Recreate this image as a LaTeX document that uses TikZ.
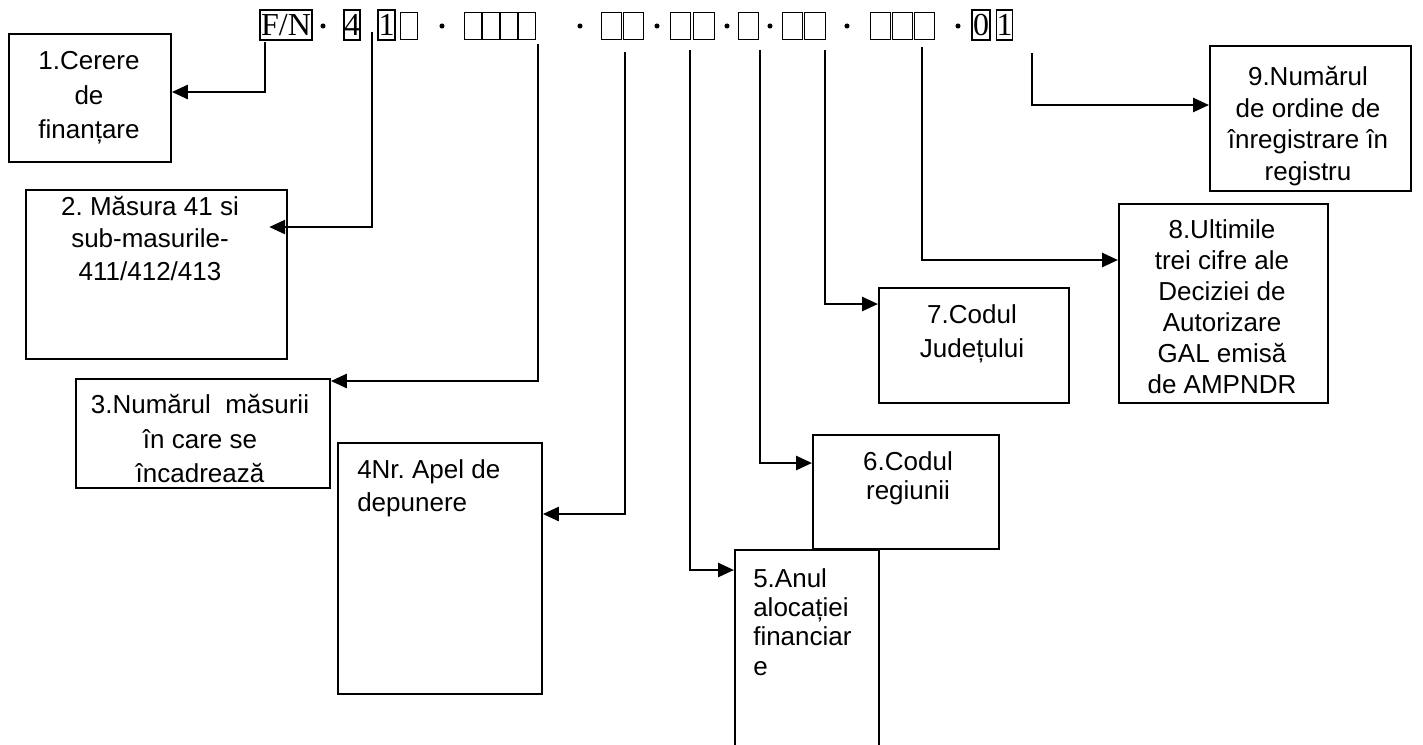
\documentclass[tikz,border=0pt]{standalone}
\usepackage{fontspec}
\setmainfont{Liberation Sans}
\newfontfamily\codefont{Liberation Serif}
\usetikzlibrary{arrows.meta}
\frenchspacing
\tikzset{
  box/.style={draw, line width=1.4pt, inner sep=0pt},
  conn/.style={line width=2pt, -{Triangle[length=12pt,width=10.5pt]}},
  lbl/.style={font=\fontsize{19.5}{#1}\selectfont, align=center, inner sep=0pt},
  lbll/.style={font=\fontsize{19.5}{#1}\selectfont, align=left, inner sep=0pt},
  codebox/.style={draw, line width=1.1pt, inner sep=0pt, font=\codefont\fontsize{24}{24}\selectfont, minimum height=22.5pt},
  tofu/.style={draw, line width=1.1pt, inner sep=0pt, minimum height=20pt},
  dotmark/.style={circle, fill, inner sep=0pt, minimum size=3.8pt}
}
\newcommand\mkbox[5]{\node[box, anchor=north west, minimum width={(#4-#2)*0.75pt}, minimum height={(#5-#3)*0.75pt}] (#1) at (#2,#3) {};}
\newcommand\mktofu[3]{\node[tofu, anchor=north west, minimum width={(#3-#2)*0.75pt}] (#1) at (#2,12) {};}
\begin{document}
\begin{tikzpicture}[x=0.75pt, y=-0.75pt]
\clip (0,0) rectangle (1423,744);
\fill[white] (0,0) rectangle (1423,744);

% ---- code row ----
\node[codebox, minimum width=39pt] (fn) at (286,25) {F/N};
\node[dotmark] (d1) at (323,26) {};
\node[codebox, minimum width=12pt] (k4) at (352,25) {4};
\node[codebox, minimum width=12.75pt] (k1) at (386.5,25) {1};
\mktofu{e1}{400}{417}
\node[dotmark] (d2) at (442,26) {};
\mktofu{e2}{464}{481}
\mktofu{e3}{482}{499}
\mktofu{e4}{500}{517}
\mktofu{e5}{518}{535}
\node[dotmark] (d3) at (580,26) {};
\mktofu{e6}{601}{621}
\mktofu{e7}{623}{643}
\node[dotmark] (d4) at (657,26) {};
\mktofu{e8}{670}{690}
\mktofu{e9}{693}{714}
\node[dotmark] (d5) at (727,26) {};
\mktofu{e10}{738}{758}
\node[dotmark] (d6) at (770,26) {};
\mktofu{e11}{782}{802}
\mktofu{e12}{804}{825}
\node[dotmark] (d7) at (847,26) {};
\mktofu{e13}{870}{890}
\mktofu{e14}{892}{912}
\mktofu{e15}{914}{934}
\node[dotmark] (d8) at (958,26) {};
\node[codebox, minimum width=13.5pt] (k0) at (981,25) {0};
\node[codebox, minimum width=11.25pt] (k1b) at (1004.5,25) {1};

% ---- boxes ----
\mkbox{b1}{8}{33}{170}{161}
\mkbox{b2}{25}{189}{286}{358}
\mkbox{b3}{75}{378}{329}{487}
\mkbox{b4}{337}{442}{541}{693}
\mkbox{b6}{812}{434}{998}{548}
\mkbox{b5}{734}{549}{878}{760}
\mkbox{b7}{878}{287}{1068}{402}
\mkbox{b8}{1118}{203}{1327}{402}
\mkbox{b9}{1209}{45}{1410}{190}

% ---- texts ----
\node[lbl=26pt, anchor=north] (t1) at (89,51) {1.Cerere\\de\\finanțare};
\node[lbl=24.4pt, anchor=north] (t2) at (150,196) {2. Măsura 41 si\\sub-masurile-\\411/412/413};
\node[lbl=26pt, anchor=north] (t3) at (200,394) {3.Numărul\ \ măsurii\\în care se\\încadrează};
\node[lbll=24.75pt, anchor=north west] (t4) at (357,459) {4Nr. Apel de\\depunere};
\node[lbll=22pt, anchor=north west] (t5) at (753,568) {5.Anul\\alocației\\financiar\\e};
\node[lbl=22pt, anchor=north] (t6) at (908,451) {6.Codul\\regiunii};
\node[lbl=25.5pt, anchor=north] (t7) at (972,304) {7.Codul\\Județului};
\node[lbl=23.25pt, anchor=north] (t8) at (1222,219) {8.Ultimile\\trei cifre ale\\Deciziei de\\Autorizare\\GAL emisă\\de AMPNDR};
\node[lbl=23.75pt, anchor=north] (t9) at (1308,66) {9.Numărul\\de ordine de\\înregistrare în\\registru};

% ---- connector starts ----
\coordinate (s1) at (265,42);
\coordinate (s2) at (372,32);
\coordinate (s3) at (538,44);
\coordinate (s4) at (625,52);
\coordinate (s5) at (690,50);
\coordinate (s6) at (760,50);
\coordinate (s7) at (825,50);
\coordinate (s8) at (922,47);
\coordinate (s9) at (1032,53);

% ---- connectors ----
\draw[conn] (s1) |- (b1.east |- 0,92);
\draw[conn] (s2) |- ([xshift=-14pt]b2.east |- 0,227);
\draw[conn] (s3) |- (b3.east |- 0,381);
\draw[conn] (s4) |- (b4.east |- 0,514);
\draw[conn] (s5) |- (b5.west |- 0,570);
\draw[conn] (s6) |- (b6.west |- 0,463);
\draw[conn] (s7) |- (b7.west |- 0,304);
\draw[conn] (s8) |- (b8.west |- 0,260);
\draw[conn] (s9) |- (b9.west |- 0,105);
\end{tikzpicture}
\end{document}
